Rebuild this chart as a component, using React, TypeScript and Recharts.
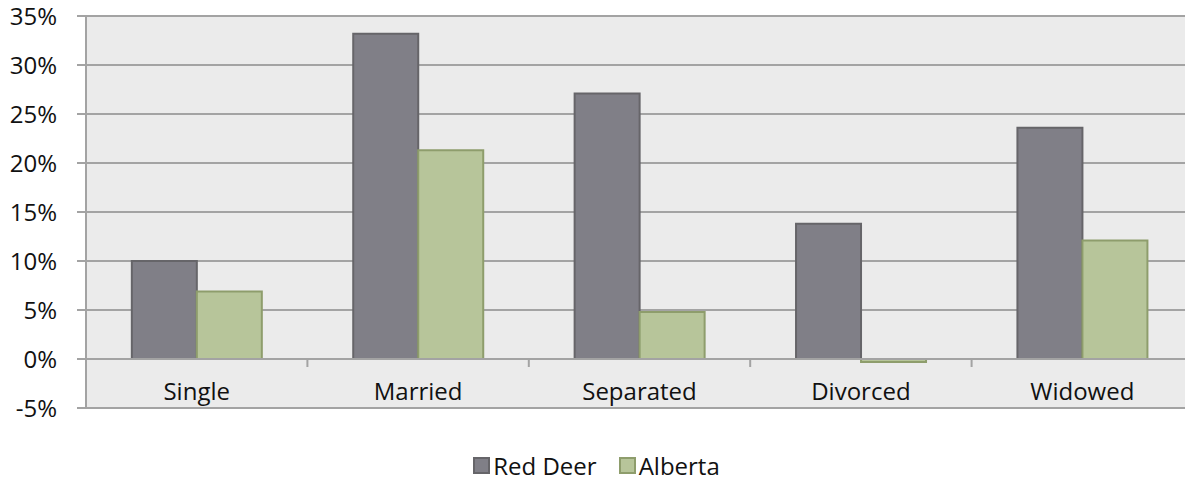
import { BarChart, Bar, XAxis, YAxis, CartesianGrid, Legend, ReferenceLine } from 'recharts';

const categories = ['Single', 'Married', 'Separated', 'Divorced', 'Widowed'];
const redDeer = [10.0, 33.2, 27.1, 13.8, 23.6];
const alberta = [6.9, 21.3, 4.8, -0.3, 12.1];
const yTicks = [-5, 0, 5, 10, 15, 20, 25, 30, 35];
const seriesOrder = ['Red Deer', 'Alberta'];

const data = categories.map((name, i) => ({
  name,
  redDeer: redDeer[i],
  alberta: alberta[i],
}));

const FONT = '"Open Sans", sans-serif';
const AXIS = '#a3a3a3';
const strokes: Record<string, string> = { 'Red Deer': '#666569', Alberta: '#8e9d6c' };

// category labels sit just above the bottom gridline; the little boundary ticks hang off the 0% line
function CategoryTick(props: any) {
  const { x, y, payload } = props;
  const half = payload.offset || 0;
  return (
    <g>
      <text x={x} y={y - 8} textAnchor="middle" fontSize={24} fontFamily={FONT} fill="#111">
        {payload.value}
      </text>
      <line x1={x + half} x2={x + half} y1={y - 49} y2={y - 41} stroke={AXIS} strokeWidth={2} />
    </g>
  );
}

function LegendBox(props: any) {
  const items = [...(props.payload || [])].sort(
    (a: any, b: any) => seriesOrder.indexOf(a.value) - seriesOrder.indexOf(b.value)
  );
  return (
    <div style={{ display: 'flex', justifyContent: 'center', alignItems: 'center', height: 32, gap: 22 }}>
      {items.map((it: any) => (
        <div key={it.value} style={{ display: 'flex', alignItems: 'center', gap: 3 }}>
          <span
            style={{
              display: 'inline-block',
              width: 13,
              height: 13,
              background: it.color,
              border: `2px solid ${strokes[it.value]}`,
            }}
          />
          <span style={{ fontFamily: FONT, fontSize: 24, color: '#111' }}>{it.value}</span>
        </div>
      ))}
    </div>
  );
}

export default function App() {
  return (
    <div style={{ position: 'absolute', left: 0, top: 0, width: 1185, height: 485, overflow: 'hidden', background: '#fff' }}>
      <BarChart
        width={1193}
        height={485}
        data={data}
        margin={{ top: 16, right: 0, bottom: 4, left: 0 }}
        barCategoryGap="20.7%"
        barGap={0}
      >
        <CartesianGrid vertical={false} stroke={AXIS} strokeWidth={2} fill="#ebebeb" />
        <XAxis
          dataKey="name"
          axisLine={false}
          tickLine={false}
          tickSize={0}
          tickMargin={0}
          height={41}
          interval={0}
          tick={<CategoryTick />}
        />
        <YAxis
          domain={[-5, 35]}
          ticks={yTicks}
          interval={0}
          width={86}
          tickFormatter={(v: number) => `${v}%`}
          axisLine={{ stroke: AXIS, strokeWidth: 2 }}
          tickLine={{ stroke: AXIS, strokeWidth: 2 }}
          tickSize={9}
          tickMargin={20}
          tick={{ fontSize: 24, fontFamily: FONT, fill: '#111' }}
        />
        <ReferenceLine y={0} stroke={AXIS} strokeWidth={2} />
        <Legend verticalAlign="bottom" align="center" height={32} content={<LegendBox />} />
        <Bar
          dataKey="redDeer"
          name="Red Deer"
          fill="#807f87"
          stroke="#666569"
          strokeWidth={2}
          isAnimationActive={false}
        />
        <Bar
          dataKey="alberta"
          name="Alberta"
          fill="#b7c59a"
          stroke="#8e9d6c"
          strokeWidth={2}
          isAnimationActive={false}
        />
      </BarChart>
    </div>
  );
}
